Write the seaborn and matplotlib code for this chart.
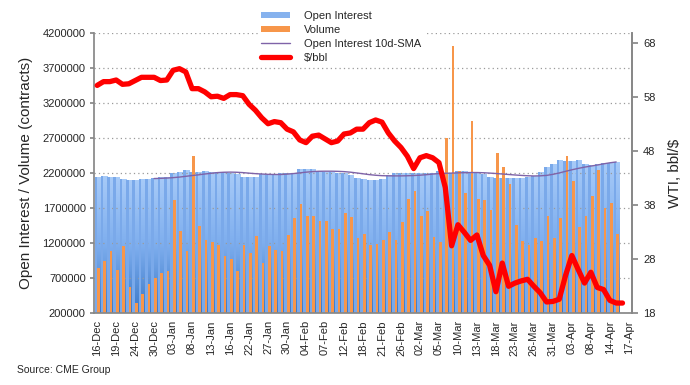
import numpy as np
import pandas as pd
import matplotlib
matplotlib.use("Agg")
import matplotlib.pyplot as plt
import seaborn as sns
from matplotlib.colors import LinearSegmentedColormap
from matplotlib.lines import Line2D
from matplotlib.patches import Patch

# trading days shown on the category axis
dates = ["16-Dec", "17-Dec", "18-Dec", "19-Dec", "20-Dec", "23-Dec", "24-Dec", "26-Dec", "27-Dec",
         "30-Dec", "31-Dec", "02-Jan", "03-Jan", "06-Jan", "07-Jan", "08-Jan", "09-Jan", "10-Jan",
         "13-Jan", "14-Jan", "15-Jan", "16-Jan", "17-Jan", "21-Jan", "22-Jan", "23-Jan", "24-Jan",
         "27-Jan", "28-Jan", "29-Jan", "30-Jan", "31-Jan", "03-Feb", "04-Feb", "05-Feb", "06-Feb",
         "07-Feb", "10-Feb", "11-Feb", "12-Feb", "13-Feb", "14-Feb", "18-Feb", "19-Feb", "20-Feb",
         "21-Feb", "24-Feb", "25-Feb", "26-Feb", "27-Feb", "28-Feb", "02-Mar", "03-Mar", "04-Mar",
         "05-Mar", "06-Mar", "09-Mar", "10-Mar", "11-Mar", "12-Mar", "13-Mar", "16-Mar", "17-Mar",
         "18-Mar", "19-Mar", "20-Mar", "23-Mar", "24-Mar", "25-Mar", "26-Mar", "27-Mar", "30-Mar",
         "31-Mar", "01-Apr", "02-Apr", "03-Apr", "06-Apr", "07-Apr", "08-Apr", "09-Apr", "13-Apr",
         "14-Apr", "15-Apr", "16-Apr", "17-Apr"]

# contracts, in thousands (16-Dec .. 15-Apr)
open_interest = [2143, 2162, 2148, 2148, 2119, 2105, 2105, 2119, 2119, 2133, 2143, 2143, 2209, 2219,
                 2248, 2219, 2219, 2233, 2219, 2219, 2219, 2200, 2190, 2148, 2148, 2148, 2190, 2176,
                 2176, 2200, 2200, 2209, 2257, 2257, 2257, 2238, 2214, 2214, 2200, 2200, 2176, 2138,
                 2119, 2105, 2105, 2124, 2171, 2200, 2200, 2200, 2200, 2200, 2200, 2200, 2233, 2200,
                 2209, 2233, 2233, 2200, 2200, 2195, 2148, 2133, 2140, 2133, 2133, 2133, 2152, 2162,
                 2219, 2290, 2333, 2390, 2376, 2376, 2390, 2333, 2319, 2333, 2343, 2343, 2367]
volume = [847, 948, 1090, 819, 1162, 576, 343, 476, 619, 705, 771, 805, 1819, 1376, 1090, 2448,
          1448, 1248, 1219, 1176, 1019, 971, 805, 1176, 1067, 1305, 924, 1162, 1105, 1090, 1319,
          1567, 1762, 1590, 1590, 1519, 1519, 1410, 1405, 1629, 1576, 1276, 1333, 1176, 1190, 1247,
          1367, 1247, 1509, 1833, 1947, 1590, 1662, 1286, 1224, 2705, 4019, 2233, 1919, 2947, 1833,
          1819, 1676, 2490, 2290, 2047, 1462, 1233, 1176, 1276, 1233, 1590, 1276, 1561, 2447, 2090,
          1433, 1590, 1876, 2247, 1704, 1776, 1333]
# 10-day SMA of open interest, starts at 30-Dec
oi_sma = [2125, 2128, 2132, 2138, 2146, 2157, 2168, 2178, 2190, 2200, 2210, 2215, 2217, 2215,
          2210, 2202, 2195, 2190, 2185, 2183, 2183, 2188, 2196, 2206, 2216, 2224, 2229, 2230,
          2230, 2228, 2224, 2216, 2205, 2193, 2181, 2172, 2166, 2164, 2163, 2163, 2165, 2168,
          2173, 2180, 2189, 2196, 2200, 2203, 2206, 2209, 2211, 2211, 2208, 2203, 2197, 2190,
          2183, 2176, 2170, 2165, 2162, 2164, 2170, 2185, 2205, 2228, 2250, 2270, 2288, 2303,
          2318, 2335, 2350, 2362]
sma_start = 9
# WTI $/bbl (16-Dec .. 16-Apr)
wti = [60.2, 60.9, 60.9, 61.2, 60.4, 60.5, 61.1, 61.7, 61.7, 61.7, 61.1, 61.2, 63.0, 63.3, 62.7,
       59.6, 59.6, 59.0, 58.1, 58.2, 57.8, 58.5, 58.5, 58.3, 56.7, 55.6, 54.2, 53.1, 53.5, 53.3,
       52.1, 51.6, 50.1, 49.6, 50.8, 51.0, 50.3, 49.6, 49.9, 51.2, 51.4, 52.1, 52.1, 53.3, 53.8,
       53.4, 51.4, 49.9, 48.7, 47.1, 44.8, 46.8, 47.2, 46.8, 45.9, 41.3, 30.5, 34.4, 33.0, 31.5,
       32.5, 28.7, 26.9, 22.0, 27.3, 23.0, 23.6, 24.0, 24.3, 23.0, 21.8, 20.1, 20.2, 20.6, 25.0,
       28.7, 26.1, 23.6, 25.6, 22.8, 22.4, 20.4, 19.9, 19.9]

n = len(open_interest)
df = pd.DataFrame({
    "date": dates[:n] * 2,
    "series": ["Open Interest"] * n + ["Volume"] * n,
    "value": [v * 1000 for v in open_interest] + [v * 1000 for v in volume],
})

sns.set_theme(style="white")
plt.rcParams["font.family"] = ["Liberation Sans", "DejaVu Sans"]
plt.rcParams["image.composite_image"] = False

fig = plt.figure(figsize=(6.9, 3.85), dpi=100)
ax = fig.add_axes([94 / 690, (385 - 313.3) / 385, 538 / 690, 280 / 385])

# light shadow behind the open interest bars
ax.bar(np.arange(n) + 0.1, [v * 1000 for v in open_interest], width=0.8,
       color="#e8e8e8", zorder=0.3, linewidth=0)

sns.barplot(data=df, x="date", y="value", hue="series", order=dates,
            hue_order=["Open Interest", "Volume"],
            palette={"Open Interest": "#7aa9ea", "Volume": "#f7964a"},
            width=0.84, saturation=1, errorbar=None, legend=False, ax=ax,
            linewidth=0, edgecolor="none")

# vertical gradient on the open interest bars
cmap = LinearSegmentedColormap.from_list("oi", ["#3c79c8", "#7eaeee", "#a8cbf8"])
grad = np.linspace(0, 1, 256).reshape(-1, 1)
for bar in ax.containers[0]:
    h = bar.get_height()
    if np.isnan(h):
        continue
    x0, w = bar.get_x(), bar.get_width()
    im = ax.imshow(grad, extent=[x0, x0 + w, 200000, h], origin="lower", cmap=cmap,
                   aspect="auto", zorder=bar.get_zorder() + 0.01, interpolation="bilinear")
    im.set_clip_path(bar)
for bar in ax.containers[1]:
    bar.set_zorder(bar.get_zorder() + 0.02)

sns.lineplot(x=np.arange(sma_start, sma_start + len(oi_sma)), y=[v * 1000 for v in oi_sma],
             color="#7f63a8", linewidth=1.0, ax=ax, zorder=3)

ax.set_xlim(-0.5, len(dates) - 0.5)
ax.set_ylim(200000, 4200000)
ax.set_yticks(range(200000, 4200001, 500000))
ax.set_yticklabels([str(v) for v in range(200000, 4200001, 500000)], fontsize=8)
ax.set_xticks(range(0, len(dates), 3))
ax.set_xticklabels(dates[::3], rotation=90, fontsize=8)
ax.set_xticks(np.arange(-0.5, len(dates), 1), minor=True)
ax.tick_params(axis="x", which="major", length=0, pad=5)
ax.tick_params(axis="x", which="minor", length=3, color="#888888", direction="out")
ax.tick_params(axis="y", length=3, color="#888888", direction="out", pad=3)
ax.set_xlabel("")
ax.set_ylabel("Open Interest / Volume (contracts)", fontsize=11, labelpad=7)
ax.set_axisbelow(True)
ax.yaxis.grid(True, linestyle=(0, (1, 2.5)), color="#9a9a9a", linewidth=0.9)
for s in ["left", "bottom", "right"]:
    ax.spines[s].set_color("#888888")
ax.spines["top"].set_visible(False)

ax2 = ax.twinx()
sns.lineplot(x=np.arange(len(wti)), y=wti, color="#ff0000", linewidth=3.8, ax=ax2,
             solid_capstyle="round", solid_joinstyle="round")
ax2.set_ylim(18, 69.85)
ax2.set_yticks(range(18, 69, 10))
ax2.set_yticklabels([str(v) for v in range(18, 69, 10)], fontsize=8)
ax2.tick_params(axis="y", length=4, color="#888888", direction="out", pad=4)
ax2.set_ylabel("WTI, bbl/$", fontsize=11, labelpad=9)
ax2.grid(False)
for s in ["left", "bottom", "top"]:
    ax2.spines[s].set_visible(False)
ax2.spines["right"].set_color("#888888")

handles = [Patch(facecolor="#86b2ee", edgecolor="none"),
           Patch(facecolor="#f7964a", edgecolor="none"),
           Line2D([], [], color="#7f63a8", linewidth=1.0),
           Line2D([], [], color="#ff0000", linewidth=3.8, solid_capstyle="round")]
labels = ["Open Interest", "Volume", "Open Interest 10d-SMA", "$/bbl"]
fig.legend(handles, labels, loc="upper left", bbox_to_anchor=(252 / 690, 1 - 2 / 385),
           fontsize=8, frameon=True, facecolor="white", edgecolor="none", framealpha=1,
           handlelength=2.6, handleheight=0.5, handletextpad=1.3, labelspacing=0.35,
           borderpad=0.3)

fig.text(17 / 690, 1 - 370 / 385, "Source: CME Group", fontsize=7.5, va="center")

fig.savefig("out.png", dpi=100)
